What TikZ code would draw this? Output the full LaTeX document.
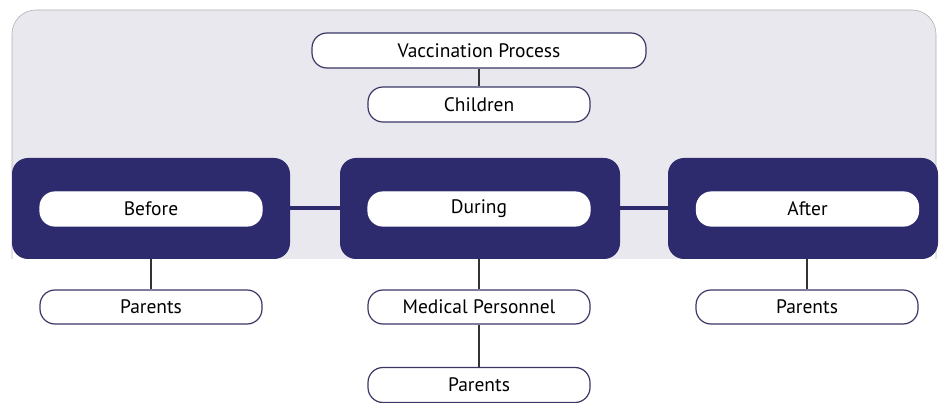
\documentclass[tikz,border=0pt]{standalone}
\usepackage{fontspec}
\setmainfont{PT Sans}
\definecolor{navy}{HTML}{2D2A6E}
\definecolor{panel}{HTML}{E8E8EE}
\definecolor{edge}{HTML}{3A3766}
\begin{document}
\begin{tikzpicture}[x=1pt,y=1pt,
  pill/.style={draw=edge, line width=1.2pt, fill=white, rounded corners=15pt, minimum width=222pt, minimum height=35pt, inner sep=0pt, font=\fontsize{19.5}{22}\selectfont},
  darkbox/.style={fill=navy, rounded corners=16pt, minimum height=101pt, inner sep=0pt},
  thinlink/.style={draw=black!80, line width=1.1pt},
  thicklink/.style={draw=navy, line width=4pt}]
\useasboundingbox (0,0) rectangle (939,-403);
% background panel
\fill[panel, rounded corners=24pt] (12,-10) rectangle (936,-259);
\draw[gray!60, line width=0.6pt, rounded corners=24pt] (12,-259) -- (12,-10) -- (936,-10) -- (936,-259);
% dark boxes
\node[darkbox, minimum width=278pt] (bbox) at (151,-208.5) {};
\node[darkbox, minimum width=280pt] (dbox) at (480,-208.5) {};
\node[darkbox, minimum width=270pt] (abox) at (803,-208.5) {};
\draw[thicklink] (bbox.east) -- (dbox.west);
\draw[thicklink] (dbox.east) -- (abox.west);
% inner pills
\node[pill, draw=white, minimum height=34pt] (before) at (151,-209) {Before};
\node[pill, draw=white, minimum height=34pt] (during) at (479,-209) {During};
\node[pill, draw=white, minimum height=34pt] (after) at (807.5,-209) {After};
% top
\node[pill, minimum width=334pt] (vacc) at (479,-50.5) {Vaccination Process};
\node[pill] (child) at (479,-104.5) {Children};
\draw[thinlink] (vacc) -- (child);
% lower
\node[pill, minimum height=34pt] (par1) at (151,-307) {Parents};
\node[pill, minimum height=34pt] (med) at (479,-307) {Medical Personnel};
\node[pill] (par2) at (479,-385) {Parents};
\node[pill, minimum height=34pt] (par3) at (807,-307) {Parents};
\draw[thinlink] (bbox.south -| par1) -- (par1.north);
\draw[thinlink] (dbox.south -| med) -- (med.north);
\draw[thinlink] (med) -- (par2);
\draw[thinlink] (abox.south -| par3) -- (par3.north);
\end{tikzpicture}
\end{document}
